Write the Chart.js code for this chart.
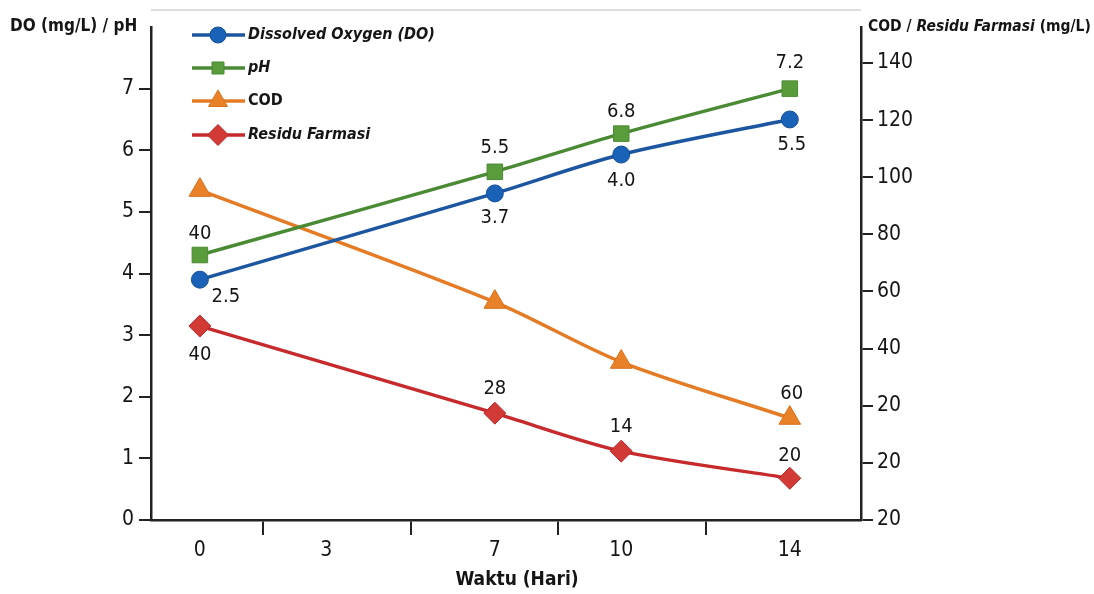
<!DOCTYPE html>
<html><head><meta charset="utf-8">
<script src="https://cdn.jsdelivr.net/npm/chart.js@4.4.1/dist/chart.umd.min.js"></script>
<style>html,body{margin:0;padding:0;background:#fff;overflow:hidden}#wrap{width:1094px;height:594px;position:relative}</style>
</head><body><div id="wrap"><canvas id="c"></canvas></div>
<script>
// ---- data ----
const days = [0, 7, 10, 14];
const xTickDays = [0, 3, 7, 10, 14];
const leftTicks = [0, 1, 2, 3, 4, 5, 6, 7];
const rightTickValues = [-20, 0, 20, 40, 60, 80, 100, 120, 140];
const rightTickLabels = ["20", "20", "20", "40", "60", "80", "100", "120", "140"];
const seriesNames = ["Dissolved Oxygen (DO)", "pH", "COD", "Residu Farmasi"];
const doValues = [3.9, 5.3, 5.93, 6.5];
const phValues = [4.3, 5.65, 6.27, 7.0];
const codValues = [95.5, 56.3, 35.3, 15.7];
const residuValues = [47.9, 17.4, 4.1, -5.4];
const doLabels = ["2.5", "3.7", "4.0", "5.5"];
const phLabels = ["40", "5.5", "6.8", "7.2"];
const codLabels = ["", "", "", "60"];
const residuLabels = ["40", "28", "14", "20"];
const leftTitle = "DO (mg/L) / pH";
const rightTitleParts = [["COD / ", false], ["Residu Farmasi", true], [" (mg/L)", false]];
const xTitle = "Waktu (Hari)";

const FONT = '"DejaVu Sans Condensed","Liberation Sans Narrow","Roboto",sans-serif';
const TXT = '#151515';
const AX = '#222';

function pts(vals) { return days.map((d, i) => ({ x: d, y: vals[i] })); }

function drawMarker(c, style, x, y, r, fill, stroke) {
  c.save(); c.beginPath();
  if (style === 'circle') c.arc(x, y, r, 0, Math.PI * 2);
  else if (style === 'rect') { const s = r * Math.SQRT1_2; c.rect(x - s, y - s, 2 * s, 2 * s); }
  else if (style === 'triangle') { c.moveTo(x, y - r); c.lineTo(x + r * 0.866, y + r * 0.5); c.lineTo(x - r * 0.866, y + r * 0.5); c.closePath(); }
  else if (style === 'rectRot') { c.moveTo(x, y - r); c.lineTo(x + r, y); c.lineTo(x, y + r); c.lineTo(x - r, y); c.closePath(); }
  c.fillStyle = fill; c.fill(); c.lineWidth = 1; c.strokeStyle = stroke; c.stroke(); c.restore();
}

const decor = {
  id: 'decor',
  beforeDraw(chart) {
    const c = chart.ctx, a = chart.chartArea;
    c.save();
    c.strokeStyle = '#d4d4d4'; c.lineWidth = 1.5;
    c.beginPath(); c.moveTo(a.left, 10); c.lineTo(a.right, 10); c.stroke();
    c.restore();
  },
  afterDraw(chart) {
    const c = chart.ctx;
    c.save();
    c.fillStyle = TXT; c.textBaseline = 'middle';
    c.font = 'bold 17px ' + FONT; c.textAlign = 'left';
    c.fillText(leftTitle, 10, 27);
    let x = 868;
    rightTitleParts.forEach(([t, it]) => {
      c.font = (it ? 'italic ' : '') + 'bold 15.5px ' + FONT;
      c.fillText(t, x, 27); x += c.measureText(t).width;
    });
    c.font = 'bold 19px ' + FONT; c.textAlign = 'center';
    c.fillText(xTitle, 517, 580);
    // legend
    const rows = [35, 68, 101, 135];
    chart.data.datasets.forEach((ds, i) => {
      const y = rows[i];
      c.strokeStyle = ds.borderColor; c.lineWidth = 3.5;
      c.beginPath(); c.moveTo(192, y); c.lineTo(245, y); c.stroke();
      drawMarker(c, ds.pointStyle, 218, y, ds.legendRadius, ds.pointBackgroundColor, ds.pointBorderColor);
      c.font = (ds.legendItalic ? 'italic ' : '') + 'bold 16px ' + FONT;
      c.fillStyle = TXT; c.textAlign = 'left';
      c.fillText(ds.label, 248, y);
    });
    c.restore();
  },
  afterDatasetsDraw(chart) {
    const c = chart.ctx;
    c.save();
    c.font = '20px ' + FONT; c.fillStyle = TXT; c.textAlign = 'center'; c.textBaseline = 'middle';
    chart.data.datasets.forEach((ds, i) => {
      const meta = chart.getDatasetMeta(i);
      meta.data.forEach((p, j) => {
        const t = ds.pointLabels[j]; if (!t) return;
        const o = ds.labelOffsets[j];
        c.fillText(t, p.x + o[0], p.y + o[1]);
      });
    });
    c.restore();
  }
};

new Chart(document.getElementById('c'), {
  type: 'line',
  data: {
    datasets: [
      { label: seriesNames[0], data: pts(doValues), yAxisID: 'y', borderColor: '#1d56a0', pointBackgroundColor: '#1a62b8', pointBorderColor: '#174f96',
        pointStyle: 'circle', pointRadius: 8.5, legendRadius: 8, legendItalic: true, pointLabels: doLabels,
        labelOffsets: [[26, 17], [0, 24], [0, 26], [2, 25]] },
      { label: seriesNames[1], data: pts(phValues), yAxisID: 'y', borderColor: '#4b8a34', pointBackgroundColor: '#5a9b3c', pointBorderColor: '#4b8a34',
        pointStyle: 'rect', pointRadius: 11, legendRadius: 8.5, legendItalic: true, pointLabels: phLabels,
        labelOffsets: [[0, -21], [0, -24], [0, -22], [0, -26]] },
      { label: seriesNames[2], data: pts(codValues), yAxisID: 'y1', borderColor: '#e57c25', pointBackgroundColor: '#e98128', pointBorderColor: '#d9711d',
        pointStyle: 'triangle', pointRadius: 12.5, legendRadius: 11, legendItalic: false, pointLabels: codLabels,
        labelOffsets: [[0, -24], [0, -24], [0, -24], [2, -24]] },
      { label: seriesNames[3], data: pts(residuValues), yAxisID: 'y1', borderColor: '#c62a2d', pointBackgroundColor: '#d23a36', pointBorderColor: '#b8262a',
        pointStyle: 'rectRot', pointRadius: 11, legendRadius: 10.5, legendItalic: true, pointLabels: residuLabels,
        labelOffsets: [[0, 29], [0, -24], [0, -24], [0, -23]] }
    ]
  },
  options: {
    responsive: true, maintainAspectRatio: false, animation: false,
    layout: { padding: { top: 27, left: 0, right: 0, bottom: 0 } },
    elements: { line: { borderWidth: 3.5, tension: 0.3 }, point: { borderWidth: 1 } },
    plugins: { legend: { display: false }, tooltip: { enabled: false } },
    scales: {
      x: {
        type: 'linear', position: 'bottom', min: -1.16, max: 15.69,
        afterBuildTicks(s) {
          const v = [...xTickDays];
          for (let i = 0; i < xTickDays.length - 1; i++) v.push((xTickDays[i] + xTickDays[i + 1]) / 2);
          s.ticks = v.sort((a, b) => a - b).map(value => ({ value }));
        },
        afterFit(s) { s.height = 74; },
        ticks: { autoSkip: false, maxRotation: 0, padding: 3, color: TXT, font: { family: FONT, size: 21 },
          callback: (v) => xTickDays.includes(v) ? String(v) : '' },
        grid: { drawOnChartArea: false, drawTicks: true, tickLength: 15, lineWidth: 2,
          color: (ctx) => (ctx.tick && xTickDays.includes(ctx.tick.value)) ? 'rgba(0,0,0,0)' : AX },
        border: { color: AX, width: 2.5 }
      },
      y: {
        type: 'linear', position: 'left', min: 0, max: 8,
        afterBuildTicks(s) { s.ticks = leftTicks.map(value => ({ value })); },
        afterFit(s) { s.width = 151; },
        ticks: { padding: 5, color: TXT, font: { family: FONT, size: 21 } },
        grid: { drawOnChartArea: false, tickLength: 12, lineWidth: 2, color: AX },
        border: { color: AX, width: 2.5 }
      },
      y1: {
        type: 'linear', position: 'right', min: -20, max: 152.6,
        afterBuildTicks(s) { s.ticks = rightTickValues.map(value => ({ value })); },
        afterFit(s) { s.width = 233; },
        ticks: { padding: 4, color: TXT, font: { family: FONT, size: 21 },
          callback: (v) => rightTickLabels[rightTickValues.indexOf(v)] },
        grid: { drawOnChartArea: false, tickLength: 12, lineWidth: 2, color: AX },
        border: { color: AX, width: 2.5 }
      }
    }
  },
  plugins: [decor]
});
</script></body></html>
